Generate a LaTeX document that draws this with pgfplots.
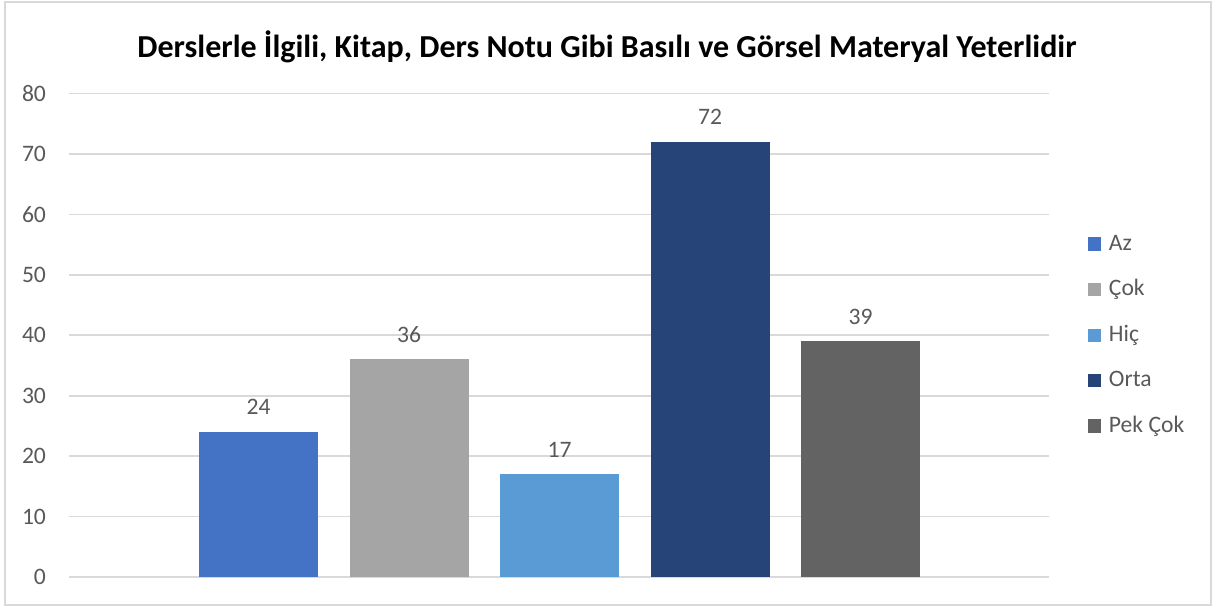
\documentclass[border=0pt]{standalone}
\usepackage{pgfplots}
\pgfplotsset{compat=1.18}
\usepackage{fontspec}
\setmainfont{Carlito}
\definecolor{cAz}{HTML}{4472C4}
\definecolor{cCok}{HTML}{A5A5A5}
\definecolor{cHic}{HTML}{5B9BD5}
\definecolor{cOrta}{HTML}{264478}
\definecolor{cPek}{HTML}{636363}
\definecolor{txt}{HTML}{595959}
\definecolor{gridc}{HTML}{D9D9D9}
\begin{document}
\begin{tikzpicture}
\useasboundingbox (-34.5pt,-15.5pt) rectangle (573pt,288.5pt);
\draw[gridc, line width=1pt] (-32pt,-14pt) rectangle (571pt,287.5pt);
\node[font=\fontsize{16}{19}\selectfont\bfseries, text=black] at (269pt,265pt)
  {Derslerle İlgili, Kitap, Ders Notu Gibi Basılı ve Görsel Materyal Yeterlidir};
\begin{axis}[
    at={(0,0)}, anchor=south west,
    scale only axis,
    width=490pt, height=241.7pt,
    ybar, bar width=59.5pt, bar shift=0pt,
    xmin=-1.259, xmax=5.252,
    ymin=0, ymax=80,
    ytick={0,10,...,80},
    xtick=\empty,
    ymajorgrids,
    grid style={gridc, line width=0.8pt},
    axis line style={draw=none},
    ytick style={draw=none},
    yticklabel style={xshift=-8pt},
    tick label style={font=\fontsize{11.8}{13}\selectfont, text=txt},
    /pgf/number format/assume math mode=true,
    nodes near coords,
    every node near coord/.append style={font=\fontsize{11.8}{13}\selectfont, text=txt, yshift=5pt},
    legend style={at={(1.033,0.5)}, anchor=west, draw=none, fill=none,
                  font=\fontsize{11.8}{13}\selectfont, text=txt,
                  row sep=9.3pt, cells={anchor=west}},
    area legend,
    legend image code/.code={\fill[#1] (0pt,-3.3pt) rectangle (6.6pt,3.3pt);},
  ]
\addplot[fill=cAz, draw=none] coordinates {(0,24)};
\addlegendentry{\hspace{2pt}Az}
\addplot[fill=cCok, draw=none] coordinates {(1,36)};
\addlegendentry{\hspace{2pt}Çok}
\addplot[fill=cHic, draw=none] coordinates {(2,17)};
\addlegendentry{\hspace{2pt}Hiç}
\addplot[fill=cOrta, draw=none] coordinates {(3,72)};
\addlegendentry{\hspace{2pt}Orta}
\addplot[fill=cPek, draw=none] coordinates {(4,39)};
\addlegendentry{\hspace{2pt}Pek Çok}
\end{axis}
\end{tikzpicture}
\end{document}
